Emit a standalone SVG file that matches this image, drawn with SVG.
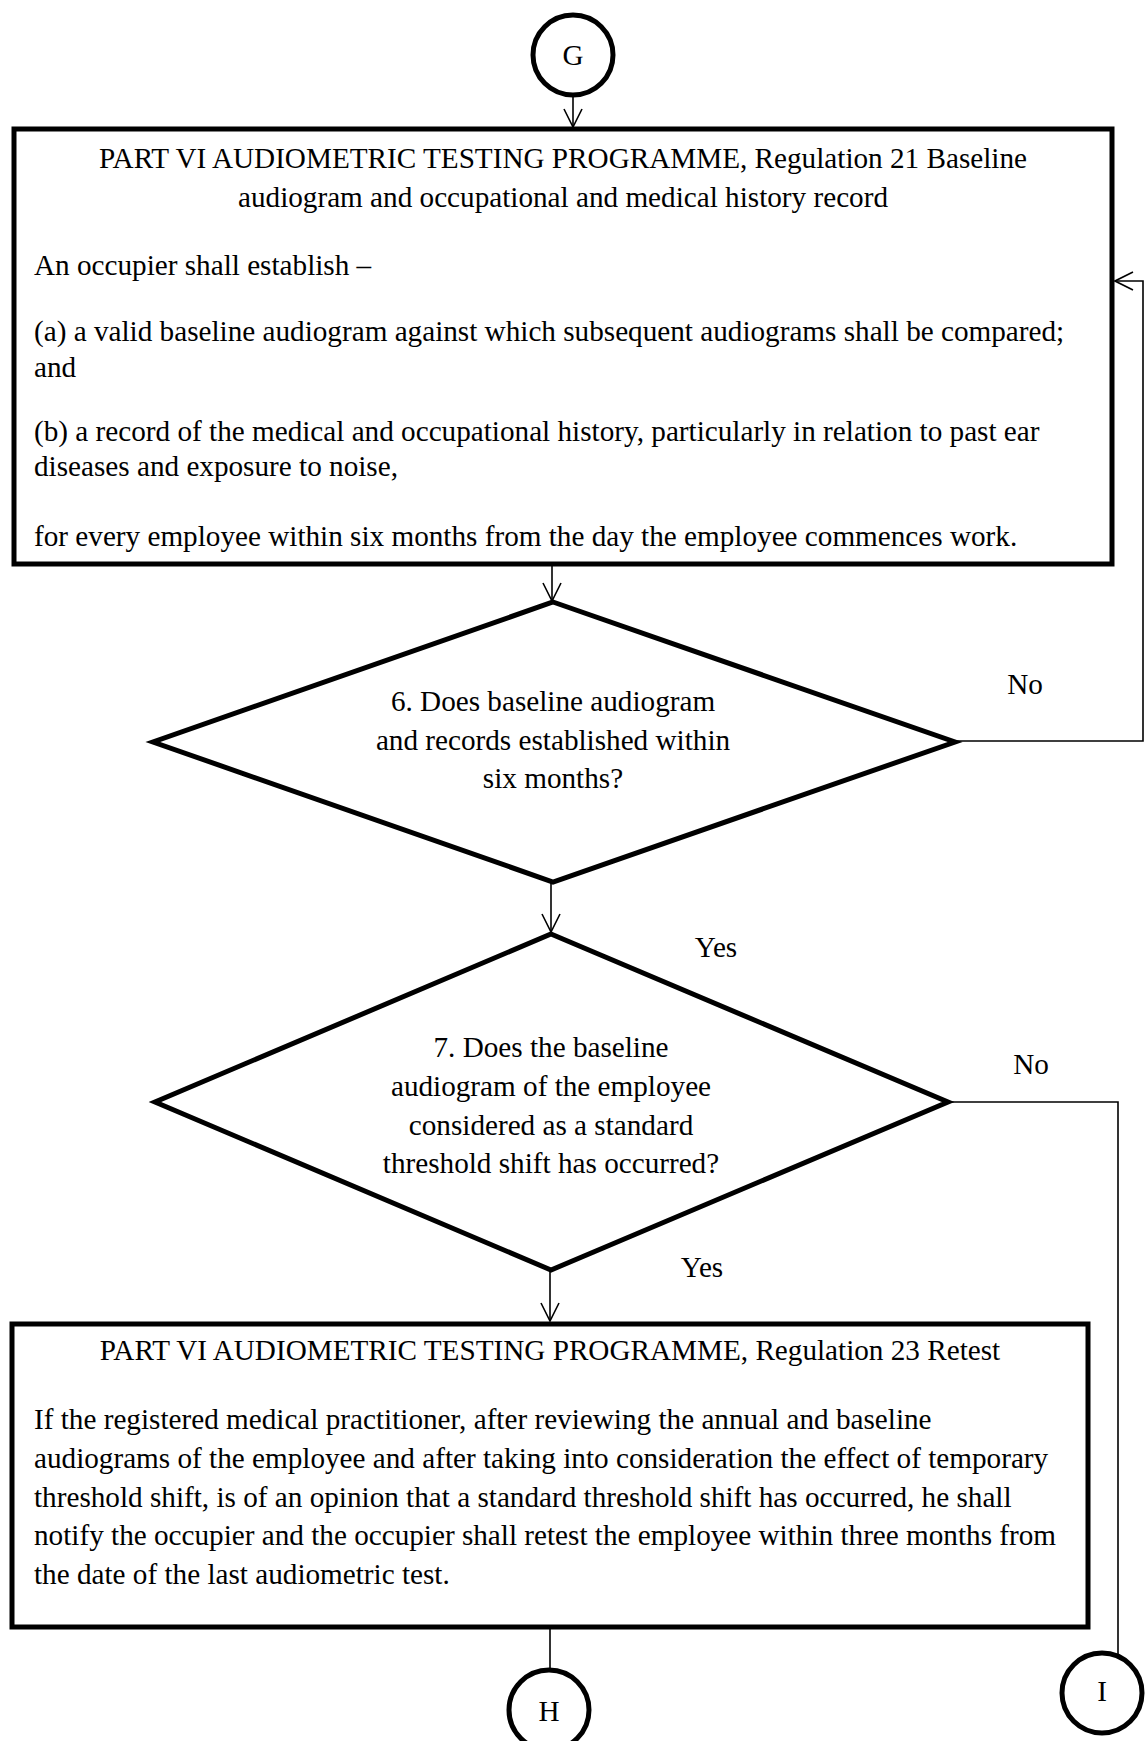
<svg xmlns="http://www.w3.org/2000/svg" width="1146" height="1741" viewBox="0 0 1146 1741">
  <style>
    .bg { fill: #ffffff; }
    .shape { fill: #ffffff; stroke: #000000; stroke-width: 5; stroke-linejoin: miter; }
    .conn { fill: none; stroke: #000000; stroke-width: 1.6; }
    text { font-family: "Liberation Serif", "Times New Roman", serif; font-size: 29.2px; fill: #000000; }
    .c { text-anchor: middle; }
  </style>
  <defs>
    <marker id="openArrow" markerUnits="userSpaceOnUse" viewBox="0 0 20 20" markerWidth="20" markerHeight="20" refX="19" refY="10" orient="auto">
      <path d="M1,1 L19,10 L1,19" fill="none" stroke="#000000" stroke-width="1.6"/>
    </marker>
  </defs>

  <rect class="bg" x="0" y="0" width="1146" height="1741"/>

  <!-- connectors -->
  <g id="connectors">
    <path class="conn" d="M573,96 V127" marker-end="url(#openArrow)"/>
    <path class="conn" d="M552,566 V601" marker-end="url(#openArrow)"/>
    <path class="conn" d="M956,741 H1143 V281 H1115" marker-end="url(#openArrow)"/>
    <path class="conn" d="M551,882 V932" marker-end="url(#openArrow)"/>
    <path class="conn" d="M948,1102 H1118 V1654"/>
    <path class="conn" d="M550,1270 V1321" marker-end="url(#openArrow)"/>
    <path class="conn" d="M550,1628 V1668"/>
  </g>

  <!-- edge labels -->
  <g id="labels">
    <text x="1025" y="694" class="c">No</text>
    <text x="716" y="957" class="c">Yes</text>
    <text x="1031" y="1074" class="c">No</text>
    <text x="702" y="1277" class="c">Yes</text>
  </g>

  <!-- connector G -->
  <g id="node-G">
    <circle class="shape" cx="573" cy="55" r="40" stroke-width="4.5"/>
    <text x="573" y="65" class="c">G</text>
  </g>

  <!-- Regulation 21 box -->
  <g id="node-reg21">
    <rect class="shape" x="14" y="129" width="1098" height="435"/>
    <text x="563" y="168" class="c">PART VI AUDIOMETRIC TESTING PROGRAMME, Regulation 21 Baseline</text>
    <text x="563" y="206.5" class="c">audiogram and occupational and medical history record</text>
    <text x="34" y="275">An occupier shall establish –</text>
    <text x="34" y="341">(a) a valid baseline audiogram against which subsequent audiograms shall be compared;</text>
    <text x="34" y="377">and</text>
    <text x="34" y="441">(b) a record of the medical and occupational history, particularly in relation to past ear</text>
    <text x="34" y="476">diseases and exposure to noise,</text>
    <text x="34" y="546">for every employee within six months from the day the employee commences work.</text>
  </g>

  <!-- decision 6 -->
  <g id="node-decision6">
    <polygon class="shape" points="553,602 955,742 553,882 153,742"/>
    <text x="553" y="711" class="c">6. Does baseline audiogram</text>
    <text x="553" y="749.5" class="c">and records established within</text>
    <text x="553" y="788" class="c">six months?</text>
  </g>

  <!-- decision 7 -->
  <g id="node-decision7">
    <polygon class="shape" points="551,934 948,1102 551,1270 155,1102"/>
    <text x="551" y="1057" class="c">7. Does the baseline</text>
    <text x="551" y="1096" class="c">audiogram of the employee</text>
    <text x="551" y="1134.5" class="c">considered as a standard</text>
    <text x="551" y="1173" class="c">threshold shift has occurred?</text>
  </g>

  <!-- Regulation 23 box -->
  <g id="node-reg23">
    <rect class="shape" x="12" y="1324" width="1076" height="303"/>
    <text x="550" y="1360" class="c">PART VI AUDIOMETRIC TESTING PROGRAMME, Regulation 23 Retest</text>
    <text x="34" y="1429">If the registered medical practitioner, after reviewing the annual and baseline</text>
    <text x="34" y="1468">audiograms of the employee and after taking into consideration the effect of temporary</text>
    <text x="34" y="1506.5">threshold shift, is of an opinion that a standard threshold shift has occurred, he shall</text>
    <text x="34" y="1545">notify the occupier and the occupier shall retest the employee within three months from</text>
    <text x="34" y="1584">the date of the last audiometric test.</text>
  </g>

  <!-- connector H -->
  <g id="node-H">
    <circle class="shape" cx="549" cy="1710" r="40" stroke-width="4.5"/>
    <text x="549" y="1721" class="c">H</text>
  </g>

  <!-- connector I -->
  <g id="node-I">
    <circle class="shape" cx="1102" cy="1693" r="40" stroke-width="4.5"/>
    <text x="1102" y="1701" class="c">I</text>
  </g>
</svg>
